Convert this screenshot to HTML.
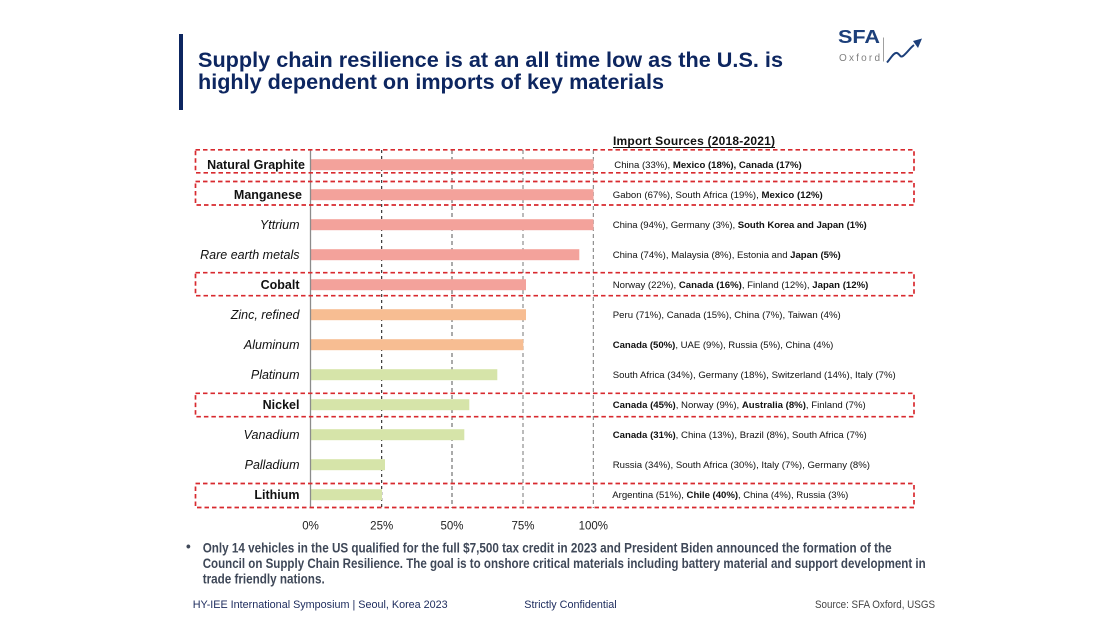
<!DOCTYPE html>
<html>
<head>
<meta charset="utf-8">
<style>
html,body{margin:0;padding:0;background:#fff;}
body{width:1110px;height:624px;overflow:hidden;position:relative;}
svg{position:absolute;left:0;top:0;}
text{font-family:"Liberation Sans",Arial,sans-serif;}
</style>
</head>
<body>
<svg width="1110" height="624" viewBox="0 0 1110 624" xmlns="http://www.w3.org/2000/svg">
  <!-- Title -->
  <rect x="179" y="34" width="4" height="76" fill="#0d2660"/>
  <text x="198" y="67" font-size="21" font-weight="bold" fill="#0d2660" textLength="585" lengthAdjust="spacingAndGlyphs">Supply chain resilience is at an all time low as the U.S. is</text>
  <text x="198" y="89" font-size="21" font-weight="bold" fill="#0d2660" textLength="466" lengthAdjust="spacingAndGlyphs">highly dependent on imports of key materials</text>

  <!-- Logo -->
  <text x="838" y="43" font-size="18" font-weight="bold" fill="#1c3f7a" textLength="42" lengthAdjust="spacingAndGlyphs">SFA</text>
  <text x="839" y="61" font-size="10" fill="#808080" textLength="41" lengthAdjust="spacing">Oxford</text>
  <line x1="883.5" y1="37.5" x2="883.5" y2="61.5" stroke="#a0a0a0" stroke-width="1"/>
  <path d="M887,62.5 C891,58 894,52 897,53 C900,54 900,58 903,56 C907,53 910,48 914,45" fill="none" stroke="#1c3f7a" stroke-width="2"/>
  <polygon points="922,38.5 913,41 918,48" fill="#1c3f7a"/>

  <!-- Import sources header -->
  <text x="613" y="145" font-size="12" font-weight="bold" fill="#111" textLength="162" lengthAdjust="spacing">Import Sources (2018-2021)</text>
  <line x1="613" y1="147.5" x2="775" y2="147.5" stroke="#111" stroke-width="1"/>

  <!-- Gridlines -->
  <line x1="381.7" y1="150" x2="381.7" y2="508" stroke="#111" stroke-width="1" stroke-dasharray="3,3"/>
  <line x1="452" y1="150" x2="452" y2="508" stroke="#555" stroke-width="1" stroke-dasharray="4,3"/>
  <line x1="523" y1="150" x2="523" y2="508" stroke="#777" stroke-width="1" stroke-dasharray="4,3"/>
  <line x1="593.3" y1="150" x2="593.3" y2="508" stroke="#777" stroke-width="1" stroke-dasharray="4,3"/>

  <!-- Bars -->
  <g>
    <rect x="311" y="159.2" width="282.5" height="11" fill="#f3a29b"/>
    <rect x="311" y="189.2" width="282.5" height="11" fill="#f3a29b"/>
    <rect x="311" y="219.2" width="282.5" height="11" fill="#f3a29b"/>
    <rect x="311" y="249.2" width="268.3" height="11" fill="#f3a29b"/>
    <rect x="311" y="279.2" width="215" height="11" fill="#f3a29b"/>
    <rect x="311" y="309.2" width="215" height="11" fill="#f7bd92"/>
    <rect x="311" y="339.2" width="212.3" height="11" fill="#f7bd92"/>
    <rect x="311" y="369.2" width="186.3" height="11" fill="#d6e4a9"/>
    <rect x="311" y="399.2" width="158.3" height="11" fill="#d6e4a9"/>
    <rect x="311" y="429.2" width="153.3" height="11" fill="#d6e4a9"/>
    <rect x="311" y="459.2" width="74" height="11" fill="#d6e4a9"/>
    <rect x="311" y="489.2" width="71" height="11" fill="#d6e4a9"/>
  </g>

  <!-- Axis line -->
  <line x1="310.5" y1="150" x2="310.5" y2="508" stroke="#8c8c8c" stroke-width="1.3"/>

  <!-- Red dashed boxes -->
  <g fill="none" stroke="#d82a2f" stroke-width="1.7" stroke-dasharray="4.5,3">
    <rect x="195.5" y="149.8" width="718.5" height="23"/>
    <rect x="195.5" y="181.5" width="718.5" height="23.5"/>
    <rect x="195.5" y="272.7" width="718.5" height="23"/>
    <rect x="195.5" y="393.3" width="718.5" height="23.4"/>
    <rect x="195.5" y="483.5" width="718.5" height="24"/>
  </g>

  <!-- Y labels -->
  <g font-size="12.5" fill="#111" text-anchor="end">
    <text x="305" y="169" font-weight="bold">Natural Graphite</text>
    <text x="302" y="199" font-weight="bold">Manganese</text>
    <text x="299.5" y="229" font-style="italic">Yttrium</text>
    <text x="299.5" y="259" font-style="italic">Rare earth metals</text>
    <text x="299.5" y="289" font-weight="bold">Cobalt</text>
    <text x="299.5" y="319" font-style="italic">Zinc, refined</text>
    <text x="299.5" y="349" font-style="italic">Aluminum</text>
    <text x="299.5" y="379" font-style="italic">Platinum</text>
    <text x="299.5" y="409" font-weight="bold">Nickel</text>
    <text x="299.5" y="439" font-style="italic">Vanadium</text>
    <text x="299.5" y="469" font-style="italic">Palladium</text>
    <text x="299.5" y="499" font-weight="bold">Lithium</text>
  </g>

  <!-- Sources -->
  <g font-size="9.6" fill="#111">
    <text x="614.3" y="168" textLength="187.4" lengthAdjust="spacing">China (33%), <tspan font-weight="bold">Mexico (18%), Canada (17%)</tspan></text>
    <text x="612.7" y="198" textLength="210" lengthAdjust="spacing">Gabon (67%), South Africa (19%), <tspan font-weight="bold">Mexico (12%)</tspan></text>
    <text x="612.7" y="228" textLength="254" lengthAdjust="spacing">China (94%), Germany (3%), <tspan font-weight="bold">South Korea and Japan (1%)</tspan></text>
    <text x="612.7" y="258" textLength="228" lengthAdjust="spacing">China (74%), Malaysia (8%), Estonia and <tspan font-weight="bold">Japan (5%)</tspan></text>
    <text x="612.7" y="288" textLength="255.6" lengthAdjust="spacing">Norway (22%), <tspan font-weight="bold">Canada (16%)</tspan>, Finland (12%), <tspan font-weight="bold">Japan (12%)</tspan></text>
    <text x="612.7" y="318" textLength="228" lengthAdjust="spacing">Peru (71%), Canada (15%), China (7%), Taiwan (4%)</text>
    <text x="612.7" y="348" textLength="220.6" lengthAdjust="spacing"><tspan font-weight="bold">Canada (50%)</tspan>, UAE (9%), Russia (5%), China (4%)</text>
    <text x="612.7" y="378" textLength="283" lengthAdjust="spacing">South Africa (34%), Germany (18%), Switzerland (14%), Italy (7%)</text>
    <text x="612.7" y="408" textLength="253" lengthAdjust="spacing"><tspan font-weight="bold">Canada (45%)</tspan>, Norway (9%), <tspan font-weight="bold">Australia (8%)</tspan>, Finland (7%)</text>
    <text x="612.7" y="438" textLength="254" lengthAdjust="spacing"><tspan font-weight="bold">Canada (31%)</tspan>, China (13%), Brazil (8%), South Africa (7%)</text>
    <text x="612.7" y="468" textLength="257.3" lengthAdjust="spacing">Russia (34%), South Africa (30%), Italy (7%), Germany (8%)</text>
    <text x="612.3" y="498" textLength="236" lengthAdjust="spacing">Argentina (51%), <tspan font-weight="bold">Chile (40%)</tspan>, China (4%), Russia (3%)</text>
  </g>

  <!-- X tick labels -->
  <g font-size="11.5" fill="#222" text-anchor="middle">
    <text x="310.5" y="529.5">0%</text>
    <text x="381.7" y="529.5">25%</text>
    <text x="452" y="529.5">50%</text>
    <text x="523" y="529.5">75%</text>
    <text x="593.3" y="529.5">100%</text>
  </g>

  <!-- Bullet text -->
  <g font-size="13.5" font-weight="bold" fill="#3f4858">
    <text x="186" y="551">•</text>
    <text x="202.7" y="552.3" textLength="689" lengthAdjust="spacingAndGlyphs">Only 14 vehicles in the US qualified for the full $7,500 tax credit in 2023 and President Biden announced the formation of the</text>
    <text x="202.7" y="567.8" textLength="723" lengthAdjust="spacingAndGlyphs">Council on Supply Chain Resilience. The goal is to onshore critical materials including battery material and support development in</text>
    <text x="202.7" y="583.3" textLength="122" lengthAdjust="spacingAndGlyphs">trade friendly nations.</text>
  </g>

  <!-- Footer -->
  <text x="192.7" y="608" font-size="11" fill="#1b2a5c" textLength="255" lengthAdjust="spacingAndGlyphs">HY-IEE International Symposium | Seoul, Korea 2023</text>
  <text x="524.3" y="608" font-size="11" fill="#1b2a5c" textLength="92.4" lengthAdjust="spacingAndGlyphs">Strictly Confidential</text>
  <text x="815" y="608" font-size="11" fill="#444" textLength="120" lengthAdjust="spacingAndGlyphs">Source: SFA Oxford, USGS</text>
</svg>
</body>
</html>
